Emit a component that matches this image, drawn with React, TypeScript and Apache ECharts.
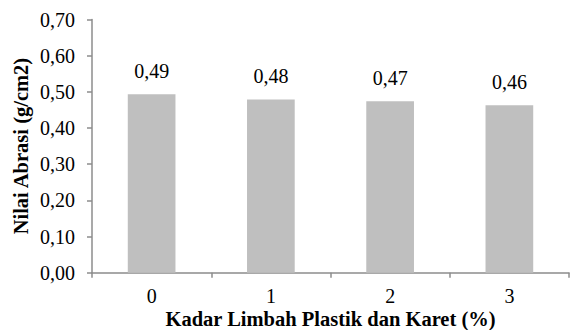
import React, { useEffect, useRef } from "react";
import * as echarts from "echarts";

const categories = ["0", "1", "2", "3"];
const abrasiValues = [0.493, 0.479, 0.474, 0.463];
const barLabels = ["0,49", "0,48", "0,47", "0,46"];
const yTicks = [0, 0.1, 0.2, 0.3, 0.4, 0.5, 0.6, 0.7];

const FONT = "Times New Roman, Liberation Serif, DejaVu Serif, serif";

export default function App() {
  const ref = useRef<HTMLDivElement>(null);
  useEffect(() => {
    if (!ref.current) return;
    const chart = echarts.init(ref.current, undefined, { renderer: "svg" });
    chart.setOption({
      animation: false,
      textStyle: { fontFamily: FONT },
      grid: { left: 92, right: 1, top: 19.5, bottom: 57.3, outerBoundsMode: "none", containLabel: false },
      xAxis: {
        type: "category",
        data: categories,
        boundaryGap: true,
        axisLine: { lineStyle: { color: "#8c8c8c", width: 1.5 } },
        axisTick: { show: true, length: 5, lineStyle: { color: "#8c8c8c", width: 1.5 } },
        axisLabel: { color: "#000", fontSize: 20, lineHeight: 18, fontFamily: FONT, margin: 14 },
        name: "Kadar Limbah Plastik dan Karet (%)",
        nameLocation: "middle",
        nameGap: 36,
        nameMoveOverlap: false,
        nameTextStyle: { color: "#000", fontSize: 20.5, lineHeight: 20, fontWeight: "bold", fontFamily: FONT },
      },
      yAxis: {
        type: "value",
        min: yTicks[0],
        max: yTicks[yTicks.length - 1],
        interval: 0.1,
        axisLine: { show: true, lineStyle: { color: "#8c8c8c", width: 1.5 } },
        axisTick: { show: true, length: 5, lineStyle: { color: "#8c8c8c", width: 1.5 } },
        splitLine: { show: false },
        axisLabel: {
          color: "#000",
          fontSize: 20,
          fontFamily: FONT,
          margin: 17,
          padding: [6, 0, 0, 0],
          formatter: (v: number) => v.toFixed(2).replace(".", ","),
        },
        name: "Nilai Abrasi (g/cm2)",
        nameLocation: "middle",
        nameRotate: 90,
        nameGap: 61,
        nameMoveOverlap: false,
        nameTextStyle: { color: "#000", fontSize: 20.5, fontWeight: "bold", fontFamily: FONT },
      },
      series: [
        {
          type: "bar",
          data: abrasiValues,
          barWidth: "40%",
          itemStyle: { color: "#bfbfbf" },
          label: {
            show: true,
            position: "top",
            distance: 13,
            color: "#000",
            fontSize: 20,
            fontFamily: FONT,
            formatter: (p: any) => barLabels[p.dataIndex],
          },
        },
      ],
    });
    return () => chart.dispose();
  }, []);
  return <div ref={ref} style={{ width: 570, height: 330, position: "absolute", left: 0, top: 0, background: "#fff" }} />;
}
